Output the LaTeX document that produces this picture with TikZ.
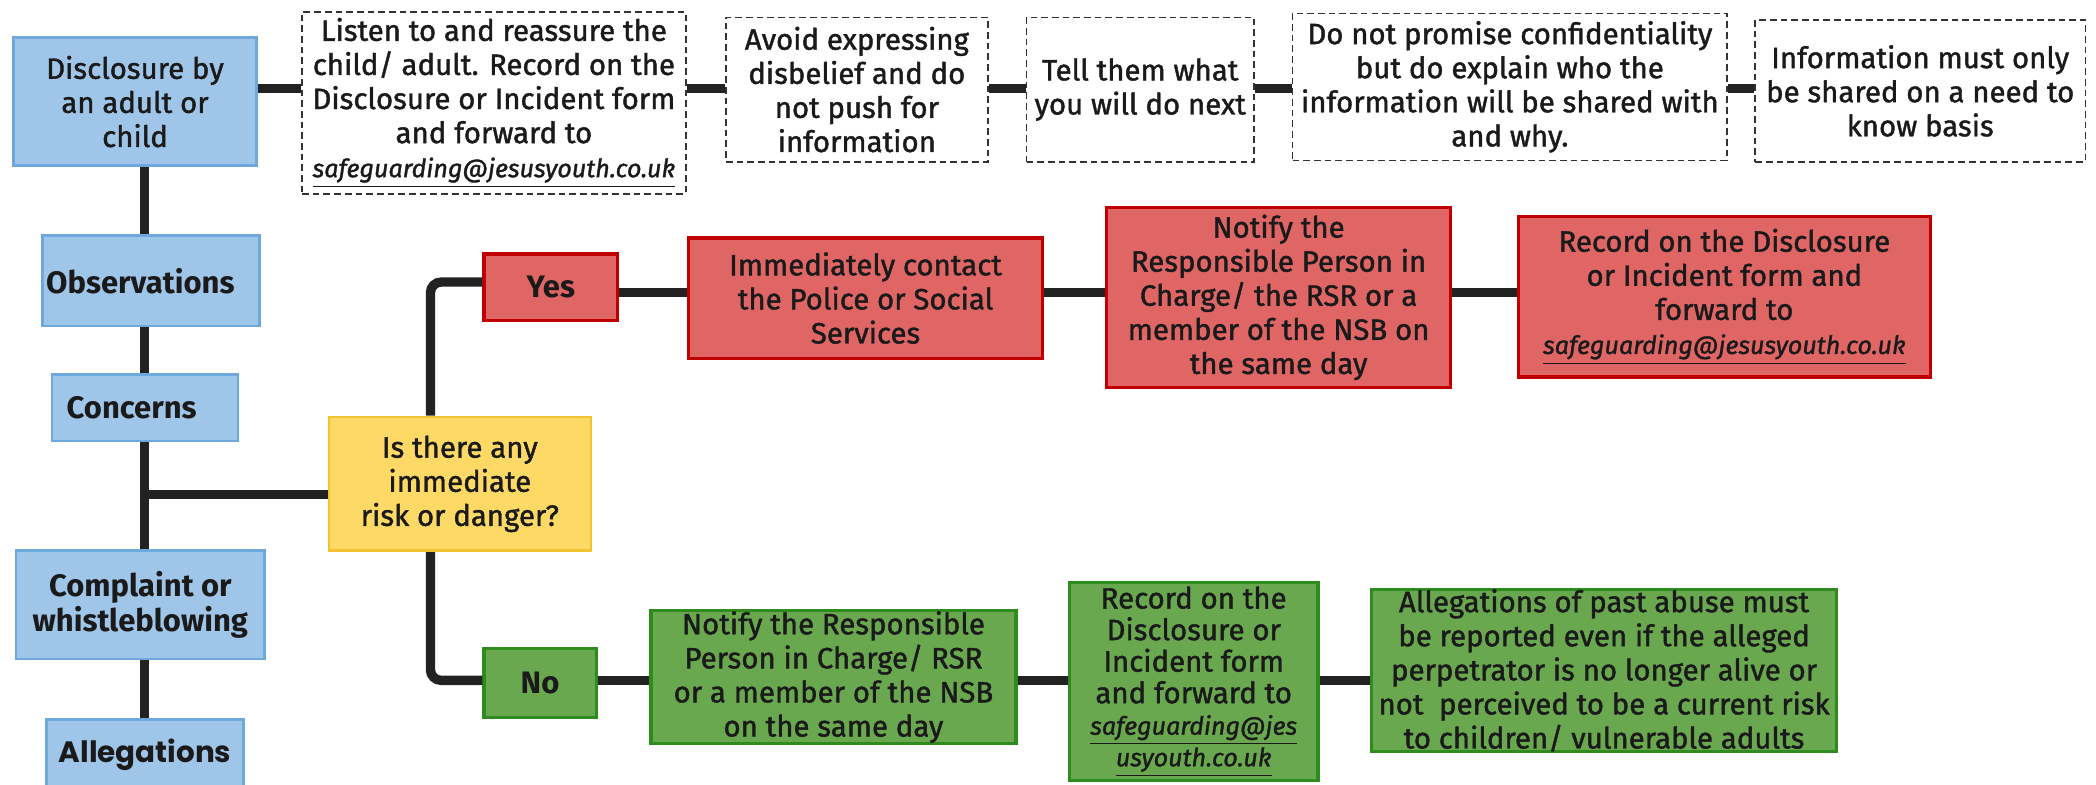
\documentclass[tikz,border=0pt]{standalone}
\usepackage{fontspec}
\setmainfont{Fira Sans}[UprightFeatures={FakeBold=1.4},ItalicFeatures={FakeBold=1.4}]
\newfontfamily\geofont{Poppins}
\definecolor{bluef}{HTML}{9FC5E8}
\definecolor{blued}{HTML}{6FA8DC}
\definecolor{yelf}{HTML}{FFD966}
\definecolor{yeld}{HTML}{F1C232}
\definecolor{redf}{HTML}{E06666}
\definecolor{redd}{HTML}{C00000}
\definecolor{grnf}{HTML}{6AA84F}
\definecolor{grnd}{HTML}{2E8B1E}
\definecolor{linec}{HTML}{222222}
\definecolor{txt}{HTML}{1A1A1A}
\definecolor{dashc}{HTML}{333333}
\newcommand\jymailfont{\fontsize{9.4}{12.75}\selectfont}
\newcommand\jymail{{\jymailfont\underline{\textit{safeguarding@jesusyouth.co.uk}}}}
\begin{document}
\begin{tikzpicture}[x=1pt,y=1pt,
  font=\fontsize{11}{12.75}\selectfont,
  base/.style={rectangle, align=center, inner sep=0pt, text=txt},
  bluebox/.style={base, fill=bluef, draw=blued, line width=1pt},
  lbl/.style={font=\fontsize{11.6}{12.75}\selectfont\bfseries},
  dbox/.style={base, fill=white, draw=dashc, line width=0.6pt, dash pattern=on 2.5pt off 1.5pt},
  yelbox/.style={base, fill=yelf, draw=yeld, line width=1pt},
  redbox/.style={base, fill=redf, draw=redd, line width=1.2pt},
  grnbox/.style={base, fill=grnf, draw=grnd, line width=1.2pt},
  link/.style={draw=linec, line width=3.5pt}]
\useasboundingbox (0,0) rectangle (784,-293.5);
% top row
\node[bluebox, minimum width=91pt, minimum height=48pt] (disc) at (50.5,-38) {Disclosure by\\an adult or\\child};
\node[dbox, minimum width=143.5pt, minimum height=68pt] (listen) at (184.75,-38.5) {Listen to and reassure the\\child/ adult. Record on the\\Disclosure or Incident form\\and forward to\\\jymail};
\node[dbox, minimum width=98pt, minimum height=54pt] (avoid) at (320.5,-33.5) {Avoid expressing\\disbelief and do\\not push for\\information};
\node[dbox, minimum width=85pt, minimum height=54pt] (tell) at (426.5,-33.5) {Tell them what\\you will do next};
\node[dbox, minimum width=162.5pt, minimum height=55pt] (prom) at (564.75,-32.5) {Do not promise confidentiality\\but do explain who the\\information will be shared with\\and why.};
\node[dbox, minimum width=123.5pt, minimum height=53pt] (info) at (718.25,-34) {Information must only\\be shared on a need to\\know basis};
% left column
\node[bluebox, lbl, minimum width=81pt, minimum height=34pt] (obs) at (56.5,-105) {Observations\hspace*{8pt}};
\node[bluebox, lbl, minimum width=69.5pt, minimum height=25pt] (conc) at (54.25,-152.5) {Concerns\hspace*{10pt}};
\node[bluebox, lbl, minimum width=93pt, minimum height=40.5pt] (comp) at (52.5,-226.25) {Complaint or\\whistleblowing};
\node[bluebox, minimum width=73.5pt, minimum height=27pt] (alleg) at (54.25,-282.5) {\geofont\bfseries Allegations};
% decision
\node[yelbox, minimum width=98pt, minimum height=50pt] (risk) at (172,-181) {Is there any\\immediate\\risk or danger?};
% red row
\node[redbox, lbl, minimum width=50pt, minimum height=25pt] (yes) at (206,-107.5) {Yes};
\node[redbox, minimum width=132.5pt, minimum height=45pt] (police) at (323.75,-111.5) {Immediately contact\\the Police or Social\\Services};
\node[redbox, minimum width=128.5pt, minimum height=67.5pt] (notify) at (478.25,-111.25) {Notify the\\Responsible Person in\\Charge/ the RSR or a\\member of the NSB on\\the same day};
\node[redbox, minimum width=154pt, minimum height=60pt] (record1) at (645,-111) {Record on the Disclosure\\or Incident form and\\forward to\\\jymail};
% green row
\node[grnbox, lbl, minimum width=42pt, minimum height=26pt] (no) at (202,-255.5) {No};
\node[grnbox, minimum width=136.5pt, minimum height=49.5pt] (notifyG) at (311.75,-253.25) {Notify the Responsible\\Person in Charge/ RSR\\or a member of the NSB\\on the same day};
\node[grnbox, minimum width=93pt, minimum height=74pt, font=\fontsize{11}{11.8}\selectfont] (recordG) at (446.5,-255) {Record on the\\Disclosure or\\Incident form\\and forward to\\{\jymailfont\underline{\textit{safeguarding@jes}}}\\{\jymailfont\underline{\textit{usyouth.co.uk}}}};
\node[grnbox, minimum width=174pt, minimum height=60.5pt] (alleg2) at (600,-250.75) {Allegations of past abuse must\\be reported even if the alleged\\perpetrator is no longer alive or\\not\ \ perceived to be a current risk\\to children/ vulnerable adults};
% helper coordinates
\coordinate (rowA) at (0,-33);
\coordinate (spine) at (54,0);
\coordinate (branchY) at (0,-185);
\coordinate (bx) at (161,0);
\coordinate (yesY) at (0,-105.5);
\coordinate (rowR) at (0,-109.5);
\coordinate (rowG) at (0,-254.5);
% top row links
\draw[link] (disc.east |- rowA) -- (listen.west |- rowA);
\draw[link] (listen.east |- rowA) -- (avoid.west |- rowA);
\draw[link] (avoid.east |- rowA) -- (tell.west |- rowA);
\draw[link] (tell.east |- rowA) -- (prom.west |- rowA);
\draw[link] (prom.east |- rowA) -- (info.west |- rowA);
% spine
\draw[link] (disc.south -| spine) -- (obs.north -| spine);
\draw[link] (obs.south -| spine) -- (conc.north -| spine);
\draw[link] (conc.south -| spine) -- (comp.north -| spine);
\draw[link] (comp.south -| spine) -- (alleg.north -| spine);
\draw[link] (spine |- branchY) -- (risk.west |- branchY);
% branches
\draw[link, rounded corners=4pt] (risk.north -| bx) -- (bx |- yesY) -- (yes.west |- yesY);
\draw[link, rounded corners=4pt] (risk.south -| bx) -- (bx |- rowG) -- (no.west |- rowG);
% red row
\draw[link] (yes.east |- rowR) -- (police.west |- rowR);
\draw[link] (police.east |- rowR) -- (notify.west |- rowR);
\draw[link] (notify.east |- rowR) -- (record1.west |- rowR);
% green row
\draw[link] (no.east |- rowG) -- (notifyG.west |- rowG);
\draw[link] (notifyG.east |- rowG) -- (recordG.west |- rowG);
\draw[link] (recordG.east |- rowG) -- (alleg2.west |- rowG);
\end{tikzpicture}
\end{document}
